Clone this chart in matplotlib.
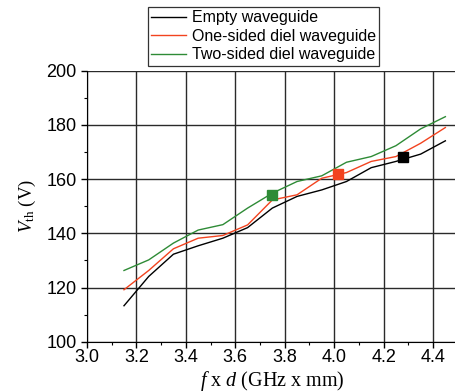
import numpy as np
import matplotlib.pyplot as plt

# f x d values (GHz x mm)
fd = [3.15, 3.25, 3.35, 3.45, 3.55, 3.65, 3.75, 3.85, 3.95, 4.05, 4.15, 4.25, 4.35, 4.45]

# threshold voltages (V)
v_empty = [113.3, 124.1, 132.3, 135.4, 138.2, 142.1, 149.3, 153.6, 156.0, 159.1, 164.2, 166.5, 169.2, 174.1]
v_one = [119.2, 126.3, 134.3, 138.2, 139.2, 143.1, 152.3, 154.2, 160.3, 162.4, 166.5, 168.3, 173.2, 179.0]
v_two = [126.3, 130.2, 136.4, 141.2, 143.2, 149.3, 154.8, 159.1, 161.2, 166.2, 168.3, 172.3, 178.5, 183.0]

# highlighted operating points
mark_x = [4.28, 4.015, 3.75]
mark_y = [168.1, 161.9, 154.3]

labels = ['Empty waveguide', 'One-sided diel waveguide', 'Two-sided diel waveguide']
colors = ['black', '#f2431f', '#2e8b36']


def main():
    plt.rcParams['font.family'] = ['Liberation Sans', 'DejaVu Sans']
    plt.rcParams['mathtext.fontset'] = 'custom'
    plt.rcParams['mathtext.rm'] = 'Liberation Serif'
    plt.rcParams['mathtext.it'] = 'Liberation Serif:italic'

    fig = plt.figure(figsize=(4.55, 3.92), dpi=100)
    ax = fig.add_axes([0.191, 0.128, 0.815, 0.692])

    series = [v_empty, v_one, v_two]
    for ys, lab, c in zip(series, labels, colors):
        ax.plot(fd, ys, color=c, linewidth=1.0, label=lab)
    for mx, my, c in zip(mark_x, mark_y, colors):
        ax.plot(mx, my, marker='s', markersize=6.5, color=c, linestyle='none')

    ax.set_xlim(3.0, 4.5)
    ax.set_ylim(100, 200)
    ax.set_xticks(np.arange(3.0, 4.41, 0.2))
    ax.set_xticks(np.arange(3.1, 4.51, 0.2), minor=True)
    ax.set_yticks(np.arange(100, 201, 20))
    ax.set_yticks(np.arange(110, 200, 20), minor=True)
    ax.grid(True, which='major', color='#2a2a2a', linewidth=1.0)
    ax.tick_params(which='major', labelsize=13, length=4, width=1)
    ax.tick_params(which='minor', length=2.5, width=0.8)
    ax.tick_params(axis='x', pad=1)
    for s in ['top', 'right']:
        ax.spines[s].set_visible(False)

    ax.set_xlabel(r'$f$ x $d$ (GHz x mm)', family='Liberation Serif', fontsize=14.5, labelpad=2)
    ax.set_ylabel(r'$V$$_{\rm th}$ (V)', family='Liberation Serif', fontsize=13.5, labelpad=6)

    leg = ax.legend(loc='upper left', bbox_to_anchor=(0.1645, 1.234), fontsize=11.5,
                    frameon=True, fancybox=False, borderpad=0.2, labelspacing=0.22,
                    handlelength=2.2, handletextpad=0.33, borderaxespad=0)
    leg.get_frame().set_edgecolor('black')
    leg.get_frame().set_linewidth(0.9)

    fig.savefig('out.png', dpi=100)


if __name__ == "__main__":
    main()
